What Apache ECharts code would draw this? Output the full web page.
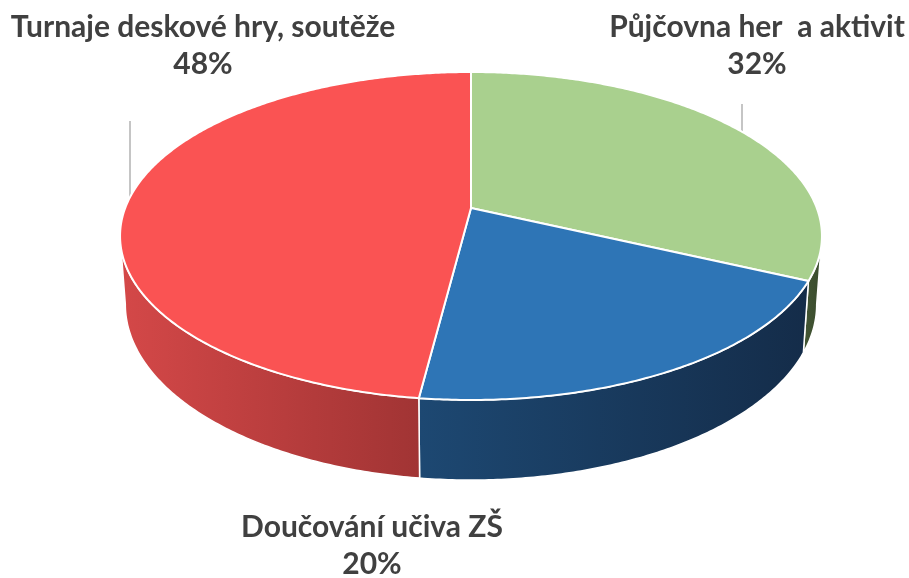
<!DOCTYPE html>
<html>
<head>
<meta charset="utf-8">
<script src="https://cdn.jsdelivr.net/npm/echarts@6/dist/echarts.min.js"></script>
<style>
  html, body { margin: 0; padding: 0; background: #fff; }
  #chart { width: 909px; height: 578px; }
</style>
</head>
<body>
<div id="chart"></div>
<script>
// data
const categories = ['Půjčovna her  a aktivit', 'Doučování učiva ZŠ', 'Turnaje deskové hry, soutěže'];
const values = [32, 20, 48];
const percentLabels = ['32%', '20%', '48%'];

// styles
const topColors = ['#A9D08E', '#2E75B6', '#FA5353'];
const wallColors = [['#435634', '#3A4B2D'], ['#1D4872', '#142C49'], ['#D44848', '#A13434']];
// label layout: center x, top y, leader line x and its upper end (null = none)
const labelLayout = [
  {x: 757, y: 9, line: 742, lineTop: 104},
  {x: 372, y: 509, line: null},
  {x: 203, y: 9, line: 130, lineTop: 121}
];

// perspective projection of the pie disc
const CX = 471, YH = -724.7, A_TOP = 932.7, A_BOT = 999.1, K = 0.1707, G = 345.8;
function proj(theta, bottom) {
  const u = Math.sin(theta), v = -Math.cos(theta);
  const d = 1 - K * v;
  return [CX + (bottom ? G * 0.985 : G) * u / d, YH + (bottom ? A_BOT : A_TOP) / d];
}
const total = values.reduce((a, b) => a + b, 0);
const starts = [];
let acc = 0;
values.forEach(v => { starts.push(acc / total * Math.PI * 2); acc += v; });
const visA = Math.acos(-K), visB = Math.PI * 2 - Math.acos(-K);

function arc(a, b, bottom) {
  const pts = [];
  const n = Math.max(2, Math.ceil((b - a) / 0.01));
  for (let i = 0; i <= n; i++) pts.push(proj(a + (b - a) * i / n, bottom));
  return pts;
}

const chart = echarts.init(document.getElementById('chart'), null, {renderer: 'canvas'});

chart.setOption({
  animation: false,
  series: [{
    type: 'custom',
    coordinateSystem: 'none',
    data: values,
    renderItem: function (params, api) {
      const i = params.dataIndex;
      const a = starts[i];
      const b = a + api.value(0) / total * Math.PI * 2;
      const children = [];
      // side wall (front, visible part)
      const wa = Math.max(a, visA), wb = Math.min(b, visB);
      if (wb > wa) {
        const topPts = arc(wa, wb, false);
        const botPts = arc(wa, wb, true).reverse();
        const pts = topPts.concat(botPts);
        const xs = pts.map(p => p[0]);
        children.push({
          type: 'polygon',
          z2: 1,
          shape: {points: pts},
          style: {
            fill: {
              type: 'linear', global: true,
              x: Math.min.apply(null, xs), y: 0, x2: Math.max.apply(null, xs), y2: 0,
              colorStops: [{offset: 0, color: wallColors[i][0]}, {offset: 1, color: wallColors[i][1]}]
            },
            stroke: '#fff',
            lineWidth: 1.5
          }
        });
      }
      // top face
      const apex = [CX, YH + A_TOP];
      children.push({
        type: 'polygon',
        z2: 10,
        shape: {points: [apex].concat(arc(a, b, false))},
        style: {fill: topColors[i], stroke: '#fff', lineWidth: 2, lineJoin: 'round'}
      });
      // label
      const lay = labelLayout[i];
      children.push({
        type: 'text',
        z2: 20,
        x: lay.x, y: lay.y,
        style: {
          text: categories[i] + '\n' + percentLabels[i],
          align: 'center',
          verticalAlign: 'top',
          fill: '#404040',
          font: 'bold 30px Lato',
          lineHeight: 37
        }
      });
      // leader line: vertical from label to top edge of the disc
      if (lay.line != null) {
        let best = null;
        for (let t = a; t <= b; t += 0.002) {
          if (-Math.cos(t) > 0) continue;
          const p = proj(t, false);
          if (!best || Math.abs(p[0] - lay.line) < Math.abs(best[0] - lay.line)) best = p;
        }
        if (best) {
          children.push({
            type: 'line',
            z2: 5,
            shape: {x1: lay.line, y1: lay.lineTop, x2: lay.line, y2: best[1]},
            style: {stroke: '#A6A6A6', lineWidth: 1.3}
          });
        }
      }
      return {type: 'group', children: children};
    }
  }]
});
</script>
</body>
</html>
